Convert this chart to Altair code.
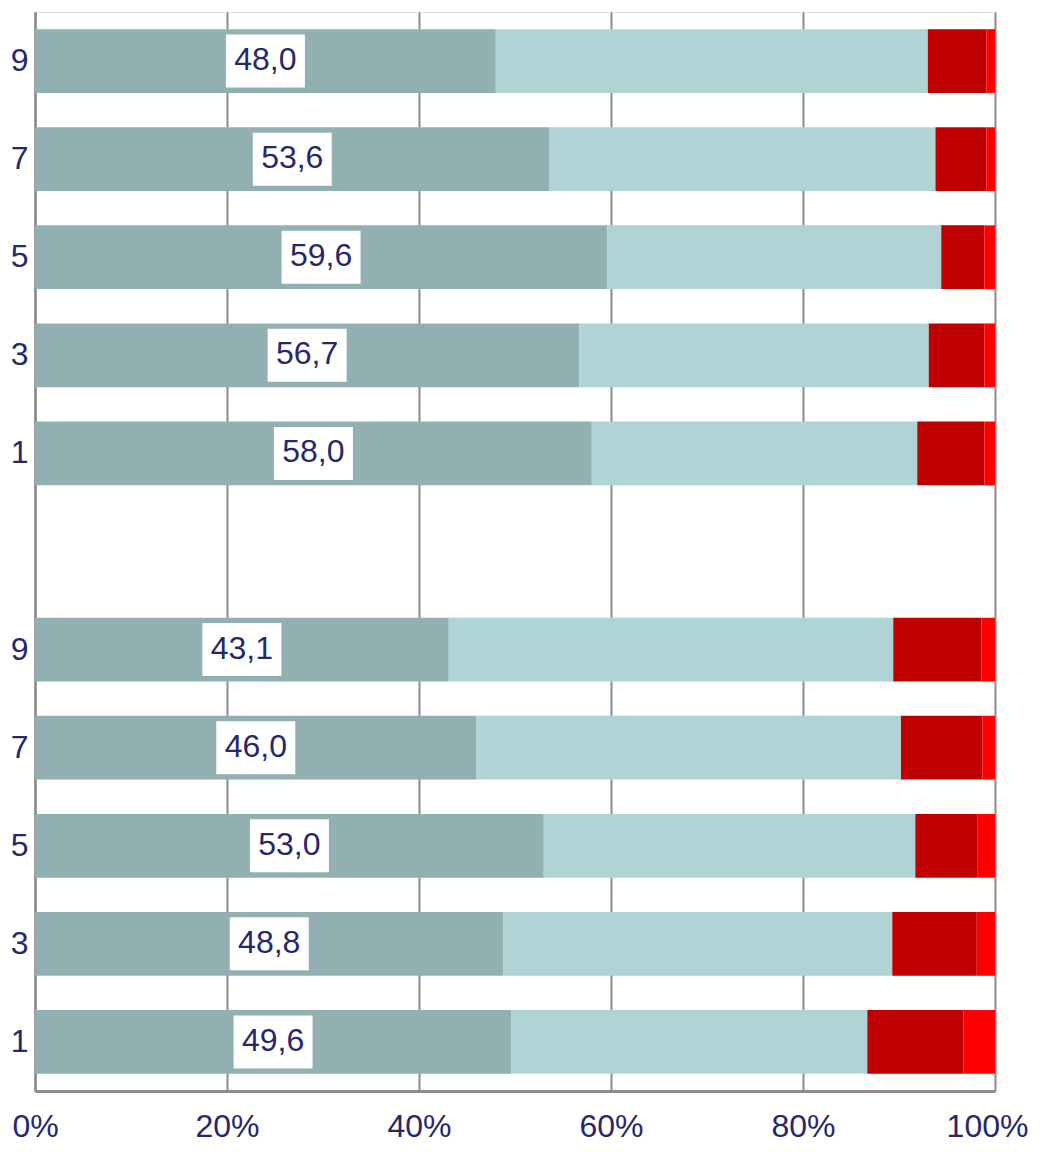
import json
import altair as alt
import pandas as pd

# ---- data ----
row_labels = ["9", "7", "5", "3", "1", "", "9", "7", "5", "3", "1"]
seg_names = ["s1", "s2", "s3", "s4"]
seg_colors = ["#92B0B1", "#B0D3D5", "#C00000", "#FF0000"]
seg1 = [48.0, 53.6, 59.6, 56.7, 58.0, None, 43.1, 46.0, 53.0, 48.8, 49.6]
seg2 = [45.0, 40.2, 34.8, 36.4, 33.9, None, 46.3, 44.2, 38.7, 40.5, 37.1]
seg3 = [6.1, 5.3, 4.5, 5.8, 7.0, None, 9.2, 8.5, 6.5, 8.8, 10.0]
seg4 = [0.9, 0.9, 1.1, 1.1, 1.1, None, 1.4, 1.3, 1.8, 1.9, 3.3]
x_ticks = [0, 20, 40, 60, 80, 100]

NAVY = "#27276B"
GRAY = "#8C8C8C"
FONT = "Liberation Sans"

rows = []
for i in range(len(row_labels)):
    for k, series in enumerate([seg1, seg2, seg3, seg4]):
        v = series[i]
        if v is None:
            continue
        rows.append({"row": i, "seg": seg_names[k], "order": k, "value": v})
df = pd.DataFrame(rows)

lab = pd.DataFrame([
    {"row": i, "value": seg1[i], "label": f"{seg1[i]:.1f}".replace(".", ",")}
    for i in range(len(row_labels)) if seg1[i] is not None
])

xscale = alt.Scale(domain=[0, 100], nice=False, zero=True)
yscale = alt.Scale(domain=list(range(len(row_labels))), paddingInner=0.35, paddingOuter=0.175)

y_axis = alt.Axis(
    labelExpr=json.dumps(row_labels) + "[datum.value]",
    ticks=False, grid=False, domain=True, domainColor=GRAY, domainWidth=2.5,
    labelPadding=7, labelAlign="right", labelFontSize=32, labelColor=NAVY,
    labelFont=FONT,
)
x_axis = alt.Axis(
    values=x_ticks, labelExpr="datum.value + '%'", ticks=False, grid=True,
    gridColor=GRAY, gridWidth=2, domainColor=GRAY, domainWidth=3,
    labelPadding=20, labelFontSize=32, labelColor=NAVY, labelFont=FONT,
    labelFlush=False,
    labelOffset={"condition": {"test": "datum.value == 100", "value": -8}, "value": 0},
)

Y = alt.Y("row:O", scale=yscale, axis=y_axis, title=None)

bars = alt.Chart(df).mark_bar().encode(
    x=alt.X("value:Q", stack="zero", scale=xscale, axis=x_axis, title=None),
    y=Y,
    color=alt.Color("seg:N", scale=alt.Scale(domain=seg_names, range=seg_colors), legend=None),
    order=alt.Order("order:Q", sort="ascending"),
)

base_lab = alt.Chart(lab).transform_calculate(mid="datum.value / 2")

boxes = base_lab.mark_point(
    shape="M-1,-0.671L1,-0.671L1,0.671L-1,0.671Z",
    filled=True, color="white", opacity=1, size=6241, strokeWidth=0,
).encode(
    x=alt.X("mid:Q", scale=xscale, axis=x_axis, title=None),
    y=Y,
)

texts = base_lab.mark_text(
    font=FONT, fontSize=32, color=NAVY, align="center", baseline="middle", dy=-1,
).encode(
    x=alt.X("mid:Q", scale=xscale, axis=x_axis, title=None),
    y=Y,
    text="label:N",
)

chart = alt.layer(bars, boxes, texts).properties(
    width=960,
    height=1079,
    autosize=alt.AutoSizeParams(type="none"),
    padding={"left": 27, "top": 4, "right": 39, "bottom": 53},
).configure_view(strokeOpacity=0).configure(background="white")

chart.save("out.html", embed_options={"renderer": "svg", "actions": False})
